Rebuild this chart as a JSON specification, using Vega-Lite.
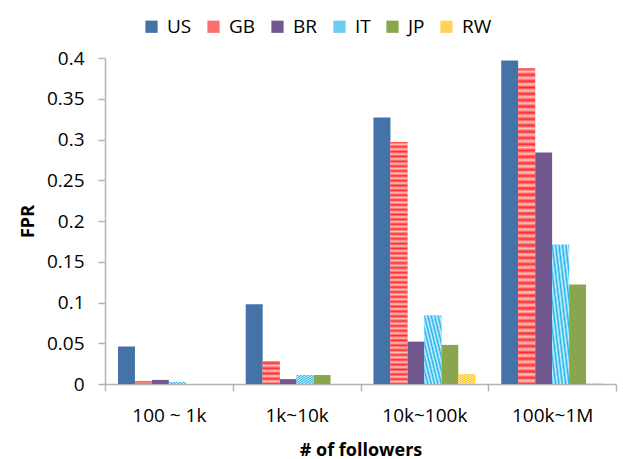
{
  "$schema": "https://vega.github.io/schema/vega-lite/v6.json",
  "width": 623,
  "height": 459,
  "autosize": {"type": "fit", "contains": "padding"},
  "padding": {"left": 19, "top": 49, "right": 6, "bottom": 0},
  "config": {
    "font": "Open Sans",
    "view": {"stroke": null},
    "axis": {"grid": false, "domainColor": "#b4b4b4", "domainWidth": 1.5, "tickColor": "#b4b4b4", "tickWidth": 1.5, "tickSize": 7, "labelColor": "#000000", "titleColor": "#000000"}
  },
  "data": {
    "values": [
      {"followers": "100 ~ 1k", "country": "US", "fpr": 0.046},
      {"followers": "100 ~ 1k", "country": "GB", "fpr": 0.0035},
      {"followers": "100 ~ 1k", "country": "BR", "fpr": 0.005},
      {"followers": "100 ~ 1k", "country": "IT", "fpr": 0.0025},
      {"followers": "100 ~ 1k", "country": "JP", "fpr": 0},
      {"followers": "100 ~ 1k", "country": "RW", "fpr": 0},
      {"followers": "1k~10k", "country": "US", "fpr": 0.098},
      {"followers": "1k~10k", "country": "GB", "fpr": 0.028},
      {"followers": "1k~10k", "country": "BR", "fpr": 0.006},
      {"followers": "1k~10k", "country": "IT", "fpr": 0.011},
      {"followers": "1k~10k", "country": "JP", "fpr": 0.011},
      {"followers": "1k~10k", "country": "RW", "fpr": 0},
      {"followers": "10k~100k", "country": "US", "fpr": 0.327},
      {"followers": "10k~100k", "country": "GB", "fpr": 0.297},
      {"followers": "10k~100k", "country": "BR", "fpr": 0.052},
      {"followers": "10k~100k", "country": "IT", "fpr": 0.084},
      {"followers": "10k~100k", "country": "JP", "fpr": 0.048},
      {"followers": "10k~100k", "country": "RW", "fpr": 0.012},
      {"followers": "100k~1M", "country": "US", "fpr": 0.397},
      {"followers": "100k~1M", "country": "GB", "fpr": 0.387},
      {"followers": "100k~1M", "country": "BR", "fpr": 0.284},
      {"followers": "100k~1M", "country": "IT", "fpr": 0.171},
      {"followers": "100k~1M", "country": "JP", "fpr": 0.122},
      {"followers": "100k~1M", "country": "RW", "fpr": 0.001}
    ]
  },
  "encoding": {
    "x": {
      "field": "followers",
      "type": "nominal",
      "sort": ["100 ~ 1k", "1k~10k", "10k~100k", "100k~1M"],
      "scale": {"paddingInner": 0, "paddingOuter": 0},
      "axis": {
        "title": "# of followers",
        "titleFontSize": 18,
        "titleFontWeight": "bold",
        "titlePadding": 16,
        "labelAngle": 0,
        "labelFontSize": 19,
        "labelPadding": 15,
        "tickBand": "extent"
      }
    },
    "xOffset": {
      "field": "country",
      "type": "nominal",
      "scale": {"domain": ["US", "GB", "BR", "IT", "JP", "RW"], "paddingInner": 0, "paddingOuter": 0.765}
    },
    "y": {
      "field": "fpr",
      "type": "quantitative",
      "scale": {"domain": [0, 0.4], "nice": false},
      "axis": {
        "title": "FPR",
        "titleFontSize": 18,
        "titleFontWeight": "bold",
        "titlePadding": 9,
        "values": [0, 0.05, 0.1, 0.15, 0.2, 0.25, 0.3, 0.35, 0.4],
        "format": ".2~f",
        "labelFontSize": 19,
        "labelPadding": 14
      }
    }
  },
  "layer": [
    {
      "mark": {"type": "bar"},
      "encoding": {
        "color": {
          "field": "country",
          "type": "nominal",
          "scale": {
            "domain": ["US", "GB", "BR", "IT", "JP", "RW"],
            "range": ["#4572a7", "#ff6e6e", "#71588f", "#6fcbf0", "#89a54e", "#ffd35a"]
          },
          "legend": {
            "title": null,
            "orient": "none",
            "legendX": 37,
            "legendY": -41,
            "direction": "horizontal",
            "symbolType": "square",
            "symbolSize": 150,
            "symbolStrokeWidth": 0,
            "labelFontSize": 19,
            "labelOffset": 6,
            "columnPadding": 12
          }
        }
      }
    },
    {
      "transform": [{"filter": "datum.country === 'GB'"}],
      "mark": {
        "type": "bar",
        "color": {"gradient": "linear", "x1": 0, "y1": 0, "x2": 0, "y2": 1, "stops": [
          {"offset": 0, "color": "#ff2a2a"}, {"offset": 0.01, "color": "#ffc4c4"},
          {"offset": 0.02, "color": "#ff2a2a"}, {"offset": 0.03, "color": "#ffc4c4"},
          {"offset": 0.04, "color": "#ff2a2a"}, {"offset": 0.05, "color": "#ffc4c4"},
          {"offset": 0.06, "color": "#ff2a2a"}, {"offset": 0.07, "color": "#ffc4c4"},
          {"offset": 0.08, "color": "#ff2a2a"}, {"offset": 0.09, "color": "#ffc4c4"},
          {"offset": 0.10, "color": "#ff2a2a"}, {"offset": 0.11, "color": "#ffc4c4"},
          {"offset": 0.12, "color": "#ff2a2a"}, {"offset": 0.13, "color": "#ffc4c4"},
          {"offset": 0.14, "color": "#ff2a2a"}, {"offset": 0.15, "color": "#ffc4c4"},
          {"offset": 0.16, "color": "#ff2a2a"}, {"offset": 0.17, "color": "#ffc4c4"},
          {"offset": 0.18, "color": "#ff2a2a"}, {"offset": 0.19, "color": "#ffc4c4"},
          {"offset": 0.20, "color": "#ff2a2a"}, {"offset": 0.21, "color": "#ffc4c4"},
          {"offset": 0.22, "color": "#ff2a2a"}, {"offset": 0.23, "color": "#ffc4c4"},
          {"offset": 0.24, "color": "#ff2a2a"}, {"offset": 0.25, "color": "#ffc4c4"},
          {"offset": 0.26, "color": "#ff2a2a"}, {"offset": 0.27, "color": "#ffc4c4"},
          {"offset": 0.28, "color": "#ff2a2a"}, {"offset": 0.29, "color": "#ffc4c4"},
          {"offset": 0.30, "color": "#ff2a2a"}, {"offset": 0.31, "color": "#ffc4c4"},
          {"offset": 0.32, "color": "#ff2a2a"}, {"offset": 0.33, "color": "#ffc4c4"},
          {"offset": 0.34, "color": "#ff2a2a"}, {"offset": 0.35, "color": "#ffc4c4"},
          {"offset": 0.36, "color": "#ff2a2a"}, {"offset": 0.37, "color": "#ffc4c4"},
          {"offset": 0.38, "color": "#ff2a2a"}, {"offset": 0.39, "color": "#ffc4c4"},
          {"offset": 0.40, "color": "#ff2a2a"}, {"offset": 0.41, "color": "#ffc4c4"},
          {"offset": 0.42, "color": "#ff2a2a"}, {"offset": 0.43, "color": "#ffc4c4"},
          {"offset": 0.44, "color": "#ff2a2a"}, {"offset": 0.45, "color": "#ffc4c4"},
          {"offset": 0.46, "color": "#ff2a2a"}, {"offset": 0.47, "color": "#ffc4c4"},
          {"offset": 0.48, "color": "#ff2a2a"}, {"offset": 0.49, "color": "#ffc4c4"},
          {"offset": 0.50, "color": "#ff2a2a"}, {"offset": 0.51, "color": "#ffc4c4"},
          {"offset": 0.52, "color": "#ff2a2a"}, {"offset": 0.53, "color": "#ffc4c4"},
          {"offset": 0.54, "color": "#ff2a2a"}, {"offset": 0.55, "color": "#ffc4c4"},
          {"offset": 0.56, "color": "#ff2a2a"}, {"offset": 0.57, "color": "#ffc4c4"},
          {"offset": 0.58, "color": "#ff2a2a"}, {"offset": 0.59, "color": "#ffc4c4"},
          {"offset": 0.60, "color": "#ff2a2a"}, {"offset": 0.61, "color": "#ffc4c4"},
          {"offset": 0.62, "color": "#ff2a2a"}, {"offset": 0.63, "color": "#ffc4c4"},
          {"offset": 0.64, "color": "#ff2a2a"}, {"offset": 0.65, "color": "#ffc4c4"},
          {"offset": 0.66, "color": "#ff2a2a"}, {"offset": 0.67, "color": "#ffc4c4"},
          {"offset": 0.68, "color": "#ff2a2a"}, {"offset": 0.69, "color": "#ffc4c4"},
          {"offset": 0.70, "color": "#ff2a2a"}, {"offset": 0.71, "color": "#ffc4c4"},
          {"offset": 0.72, "color": "#ff2a2a"}, {"offset": 0.73, "color": "#ffc4c4"},
          {"offset": 0.74, "color": "#ff2a2a"}, {"offset": 0.75, "color": "#ffc4c4"},
          {"offset": 0.76, "color": "#ff2a2a"}, {"offset": 0.77, "color": "#ffc4c4"},
          {"offset": 0.78, "color": "#ff2a2a"}, {"offset": 0.79, "color": "#ffc4c4"},
          {"offset": 0.80, "color": "#ff2a2a"}, {"offset": 0.81, "color": "#ffc4c4"},
          {"offset": 0.82, "color": "#ff2a2a"}, {"offset": 0.83, "color": "#ffc4c4"},
          {"offset": 0.84, "color": "#ff2a2a"}, {"offset": 0.85, "color": "#ffc4c4"},
          {"offset": 0.86, "color": "#ff2a2a"}, {"offset": 0.87, "color": "#ffc4c4"},
          {"offset": 0.88, "color": "#ff2a2a"}, {"offset": 0.89, "color": "#ffc4c4"},
          {"offset": 0.90, "color": "#ff2a2a"}, {"offset": 0.91, "color": "#ffc4c4"},
          {"offset": 0.92, "color": "#ff2a2a"}, {"offset": 0.93, "color": "#ffc4c4"},
          {"offset": 0.94, "color": "#ff2a2a"}, {"offset": 0.95, "color": "#ffc4c4"},
          {"offset": 0.96, "color": "#ff2a2a"}, {"offset": 0.97, "color": "#ffc4c4"},
          {"offset": 0.98, "color": "#ff2a2a"}, {"offset": 0.99, "color": "#ffc4c4"},
          {"offset": 1, "color": "#ff2a2a"}
        ]}
      }
    },
    {
      "transform": [{"filter": "datum.country === 'IT'"}],
      "mark": {
        "type": "bar",
        "color": {"gradient": "linear", "x1": 0, "y1": 1, "x2": 1, "y2": 0, "stops": [
          {"offset": 0, "color": "#1cb2ea"}, {"offset": 0.05, "color": "#d6f2ff"},
          {"offset": 0.10, "color": "#1cb2ea"}, {"offset": 0.15, "color": "#d6f2ff"},
          {"offset": 0.20, "color": "#1cb2ea"}, {"offset": 0.25, "color": "#d6f2ff"},
          {"offset": 0.30, "color": "#1cb2ea"}, {"offset": 0.35, "color": "#d6f2ff"},
          {"offset": 0.40, "color": "#1cb2ea"}, {"offset": 0.45, "color": "#d6f2ff"},
          {"offset": 0.50, "color": "#1cb2ea"}, {"offset": 0.55, "color": "#d6f2ff"},
          {"offset": 0.60, "color": "#1cb2ea"}, {"offset": 0.65, "color": "#d6f2ff"},
          {"offset": 0.70, "color": "#1cb2ea"}, {"offset": 0.75, "color": "#d6f2ff"},
          {"offset": 0.80, "color": "#1cb2ea"}, {"offset": 0.85, "color": "#d6f2ff"},
          {"offset": 0.90, "color": "#1cb2ea"}, {"offset": 0.95, "color": "#d6f2ff"},
          {"offset": 1, "color": "#1cb2ea"}
        ]}
      }
    },
    {
      "transform": [{"filter": "datum.country === 'RW'"}],
      "mark": {
        "type": "bar",
        "color": {"gradient": "linear", "x1": 0, "y1": 0, "x2": 1, "y2": 1, "stops": [
          {"offset": 0, "color": "#ffbf00"}, {"offset": 0.05, "color": "#fff0c4"},
          {"offset": 0.10, "color": "#ffbf00"}, {"offset": 0.15, "color": "#fff0c4"},
          {"offset": 0.20, "color": "#ffbf00"}, {"offset": 0.25, "color": "#fff0c4"},
          {"offset": 0.30, "color": "#ffbf00"}, {"offset": 0.35, "color": "#fff0c4"},
          {"offset": 0.40, "color": "#ffbf00"}, {"offset": 0.45, "color": "#fff0c4"},
          {"offset": 0.50, "color": "#ffbf00"}, {"offset": 0.55, "color": "#fff0c4"},
          {"offset": 0.60, "color": "#ffbf00"}, {"offset": 0.65, "color": "#fff0c4"},
          {"offset": 0.70, "color": "#ffbf00"}, {"offset": 0.75, "color": "#fff0c4"},
          {"offset": 0.80, "color": "#ffbf00"}, {"offset": 0.85, "color": "#fff0c4"},
          {"offset": 0.90, "color": "#ffbf00"}, {"offset": 0.95, "color": "#fff0c4"},
          {"offset": 1, "color": "#ffbf00"}
        ]}
      }
    }
  ]
}
